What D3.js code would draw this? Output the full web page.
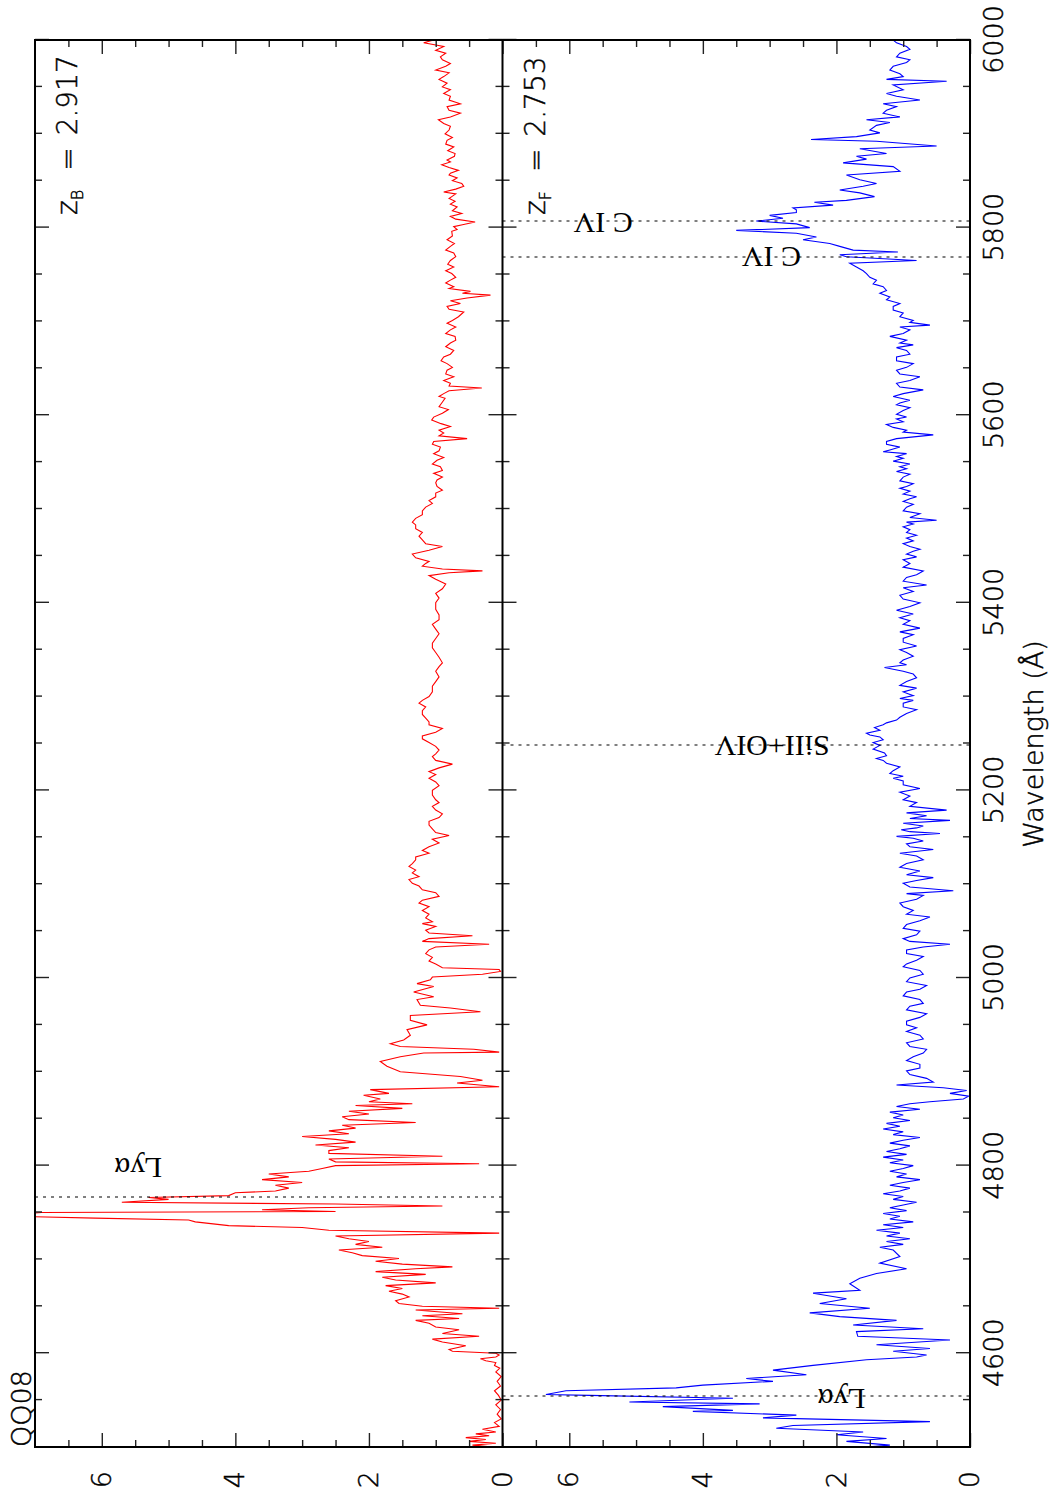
<!DOCTYPE html>
<html>
<head>
<meta charset="utf-8">
<script src="https://cdn.jsdelivr.net/npm/d3@7"></script>
<style>
  body { margin: 0; background: #fff; }
</style>
</head>
<body>
<svg id="chart"></svg>
<script>
// ---- data (wavelength in Angstrom, relative flux) ----
const redSpectrum = [
  [4500,0.15],[4502,0.45],[4504,0.1],[4506,0.5],[4508,0.25],[4510,0.55],[4512,0.2],[4514,0.4],[4516,0.1],[4519,0.3],
  [4522,0.05],[4526,0.12],[4530,0.02],[4535,0.08],[4540,0.03],[4545,0.1],[4550,0.02],[4555,0.06],[4560,0.12],[4565,0.03],
  [4570,0.08],[4575,0.02],[4580,0.1],[4584,0.04],[4587,0.12],[4590,0.1],[4592,0.25],[4594,0.33],[4596,0.1],[4598,0.05],
  [4600,0.1],[4602,0.75],[4604,0.8],[4608,0.55],[4612,0.9],[4615,1.05],[4618,0.35],[4621,0.9],[4625,0.65],[4628,1.0],
  [4632,1.1],[4635,1.3],[4637,0.65],[4640,1.2],[4642,0.6],[4646,1.3],[4648,0.05],[4650,1.2],[4653,1.55],[4656,1.6],
  [4660,1.4],[4663,1.5],[4666,1.7],[4669,1.5],[4672,1.75],[4675,1.0],[4678,1.6],[4681,1.8],[4684,1.15],[4687,1.9],
  [4690,1.3],[4692,0.75],[4695,1.5],[4698,1.9],[4701,1.55],[4704,2.1],[4707,2.25],[4710,2.45],[4713,1.8],[4716,2.2],
  [4719,2.0],[4722,2.3],[4725,2.5],[4728,0.05],[4731,2.6],[4734,3.0],[4736,4.1],[4740,4.6],[4742,4.7],[4744,6.1],
  [4746,7.3],[4748,7.3],[4750,6.9],[4751,2.5],[4753,3.6],[4755,2.9],[4757,0.9],[4759,2.5],[4761,5.7],[4764,5.0],
  [4766,5.3],[4768,4.1],[4771,4.0],[4773,3.4],[4776,3.2],[4779,3.4],[4782,3.0],[4785,3.6],[4788,3.2],[4791,3.5],
  [4794,2.9],[4797,2.7],[4800,2.5],[4802,0.35],[4804,2.5],[4807,2.6],[4810,0.9],[4813,2.6],[4816,2.6],[4819,2.3],
  [4822,2.8],[4825,2.2],[4828,2.5],[4831,3.0],[4834,2.3],[4837,2.6],[4840,2.2],[4843,2.4],[4846,1.3],[4849,2.3],
  [4852,2.4],[4855,2.0],[4858,2.3],[4861,1.5],[4864,2.2],[4866,1.35],[4868,2.0],[4871,1.83],[4875,2.08],[4877,1.7],
  [4881,1.98],[4884,0.05],[4888,0.68],[4891,0.3],[4895,0.63],[4900,1.53],[4906,1.73],[4911,1.83],[4916,1.53],[4920,1.18],
  [4921,0.05],[4924,0.43],[4927,1.53],[4930,1.68],[4934,1.48],[4939,1.38],[4945,1.43],[4950,1.13],[4955,1.38],[4960,1.38],
  [4964,0.33],[4968,0.78],[4971,1.23],[4977,1.28],[4980,1.03],[4985,1.33],[4991,1.03],[4994,1.28],[4998,1.08],[5001,1.05],
  [5004,0.3],[5007,0.03],[5009,0.05],[5011,0.9],[5015,1.0],[5018,1.1],[5022,1.05],[5026,1.15],[5030,1.1],[5033,1.0],
  [5036,0.2],[5039,1.2],[5042,1.1],[5045,0.45],[5048,1.1],[5051,1.15],[5055,1.0],[5058,1.2],[5060,1.05],[5064,1.15],
  [5068,1.1],[5072,1.2],[5076,1.1],[5080,1.25],[5083,1.2],[5087,0.95],[5091,1.0],[5094,1.2],[5098,1.25],[5101,1.35],
  [5105,1.4],[5108,1.25],[5112,1.35],[5115,1.3],[5119,1.4],[5122,1.35],[5126,1.3],[5129,1.3],[5133,1.1],[5136,1.2],
  [5140,1.1],[5144,0.95],[5148,1.05],[5152,0.8],[5155,1.0],[5159,1.05],[5163,1.1],[5167,1.1],[5171,0.95],[5175,0.9],
  [5179,1.0],[5183,1.05],[5187,0.95],[5190,1.0],[5195,1.05],[5200,1.05],[5205,0.95],[5209,1.0],[5213,1.1],[5217,1.0],
  [5220,1.1],[5224,0.95],[5228,0.75],[5232,1.0],[5236,1.05],[5239,1.0],[5243,0.95],[5247,1.0],[5251,1.1],[5255,1.2],
  [5258,1.2],[5262,1.0],[5266,0.9],[5270,1.1],[5273,1.1],[5277,1.15],[5281,1.2],[5285,1.2],[5289,1.15],[5293,1.25],
  [5296,1.2],[5300,1.1],[5305,1.05],[5311,1.05],[5316,1.0],[5321,0.95],[5327,1.0],[5332,0.95],[5336,0.9],[5342,0.95],
  [5347,1.0],[5352,1.05],[5357,1.05],[5362,1.0],[5367,0.95],[5372,1.0],[5377,1.05],[5382,0.95],[5387,0.95],[5393,1.0],
  [5400,1.0],[5405,0.95],[5410,1.0],[5415,0.9],[5420,0.85],[5425,1.0],[5429,1.1],[5432,0.8],[5434,0.3],[5436,0.9],
  [5439,1.2],[5442,1.15],[5444,1.1],[5448,1.3],[5452,1.35],[5456,1.1],[5460,0.9],[5463,1.15],[5467,1.2],[5471,1.25],
  [5475,1.2],[5479,1.3],[5483,1.3],[5486,1.35],[5490,1.3],[5494,1.2],[5498,1.2],[5502,1.15],[5506,1.05],[5509,1.1],
  [5513,1.0],[5517,1.0],[5520,0.9],[5524,0.98],[5528,1.0],[5531,0.98],[5534,0.9],[5538,1.03],[5541,0.9],[5545,0.93],
  [5548,1.05],[5552,0.98],[5555,0.88],[5559,1.03],[5562,0.95],[5566,0.93],[5569,1.05],[5572,1.03],[5575,0.53],[5578,0.95],
  [5581,0.88],[5584,0.95],[5588,0.78],[5591,0.92],[5595,1.06],[5598,1.03],[5602,0.9],[5606,0.81],[5609,0.95],[5613,0.91],
  [5618,0.86],[5620,0.95],[5623,0.88],[5626,0.8],[5629,0.31],[5631,0.8],[5634,0.78],[5637,0.88],[5641,0.73],[5644,0.85],
  [5648,0.83],[5651,0.75],[5655,0.83],[5658,0.92],[5662,0.88],[5665,0.78],[5669,0.73],[5673,0.85],[5677,0.78],[5680,0.7],
  [5684,0.71],[5687,0.85],[5691,0.78],[5694,0.7],[5698,0.83],[5701,0.75],[5705,0.66],[5710,0.58],[5713,0.8],[5716,0.83],
  [5719,0.63],[5722,0.78],[5725,0.53],[5728,0.18],[5730,0.6],[5732,0.48],[5735,0.8],[5737,0.73],[5741,0.85],[5744,0.78],
  [5747,0.7],[5751,0.76],[5754,0.85],[5758,0.73],[5761,0.82],[5765,0.78],[5769,0.7],[5773,0.73],[5776,0.85],[5780,0.78],
  [5783,0.72],[5787,0.83],[5791,0.75],[5796,0.76],[5798,0.68],[5801,0.73],[5803,0.6],[5806,0.41],[5809,0.7],[5812,0.78],
  [5815,0.61],[5818,0.75],[5822,0.68],[5825,0.78],[5828,0.71],[5831,0.8],[5833,0.76],[5836,0.7],[5838,0.88],[5841,0.7],
  [5844,0.58],[5847,0.61],[5850,0.75],[5853,0.68],[5856,0.8],[5858,0.78],[5861,0.66],[5864,0.8],[5867,0.91],[5870,0.78],
  [5872,0.83],[5876,0.72],[5879,0.71],[5882,0.82],[5886,0.73],[5889,0.85],[5893,0.83],[5896,0.75],[5900,0.86],[5904,0.8],
  [5908,0.78],[5911,0.88],[5915,0.96],[5918,0.78],[5922,0.63],[5925,0.8],[5929,0.83],[5932,0.63],[5936,0.8],[5940,0.78],
  [5943,0.88],[5947,0.78],[5950,0.9],[5954,0.83],[5958,0.95],[5961,0.88],[5965,0.8],[5968,1.0],[5972,0.85],[5975,0.78],
  [5979,0.9],[5982,0.93],[5986,0.85],[5989,1.0],[5993,0.88],[5997,1.18],[6000,1.03]
];

const blueSpectrum = [
  [4500,1.55],[4502,1.2],[4506,1.85],[4509,1.25],[4513,2.0],[4516,1.6],[4520,2.9],[4523,2.65],[4527,0.6],[4531,3.1],
  [4534,2.6],[4538,4.15],[4539,3.55],[4543,4.6],[4546,3.15],[4548,5.1],[4552,3.55],[4555,5.7],[4556,6.35],[4560,6.05],
  [4563,4.4],[4566,4.0],[4570,2.95],[4573,3.35],[4577,2.45],[4582,2.95],[4587,2.35],[4593,1.55],[4596,0.8],[4598,0.65],
  [4602,1.15],[4605,0.6],[4609,1.4],[4614,0.3],[4618,1.68],[4623,1.7],[4626,0.7],[4630,1.75],[4635,1.1],[4639,1.95],
  [4643,2.4],[4648,1.5],[4653,2.25],[4658,1.85],[4664,2.35],[4667,1.65],[4674,1.8],[4680,1.65],[4685,1.4],[4690,0.95],
  [4696,1.35],[4703,1.05],[4710,1.15],[4713,1.35],[4716,1.0],[4719,1.25],[4722,0.9],[4725,1.25],[4728,1.05],[4731,1.4],
  [4734,1.0],[4737,1.3],[4740,0.85],[4743,1.2],[4746,1.05],[4749,1.3],[4752,0.95],[4755,1.2],[4758,1.0],[4761,0.8],
  [4764,1.15],[4767,1.0],[4770,1.3],[4773,1.05],[4776,0.9],[4779,1.2],[4782,1.0],[4785,0.75],[4788,1.1],[4791,0.95],
  [4794,1.2],[4797,1.0],[4800,0.85],[4803,1.2],[4806,1.0],[4809,1.3],[4812,0.95],[4815,1.25],[4818,1.05],[4821,0.9],
  [4824,1.2],[4827,1.0],[4830,0.75],[4833,1.15],[4836,1.0],[4839,1.3],[4842,1.05],[4845,1.25],[4848,0.9],[4851,1.15],
  [4854,1.0],[4857,1.2],[4860,0.75],[4863,1.1],[4866,0.9],[4868,0.6],[4871,0.1],[4874,0.02],[4877,0.3],[4880,0.05],
  [4883,0.4],[4886,1.1],[4889,0.55],[4893,0.65],[4897,0.9],[4901,0.95],[4904,0.75],[4908,0.75],[4912,0.95],[4916,0.85],
  [4920,0.7],[4924,0.65],[4927,0.9],[4931,0.95],[4935,0.7],[4939,0.75],[4943,0.95],[4947,0.8],[4950,0.95],[4954,0.95],
  [4958,0.75],[4962,0.65],[4966,0.95],[4970,0.9],[4973,0.7],[4977,0.75],[4981,1.0],[4985,0.95],[4988,0.75],[4992,0.65],
  [4996,0.95],[5000,0.9],[5004,0.7],[5008,0.75],[5012,1.0],[5015,0.95],[5019,0.8],[5023,0.7],[5026,0.95],[5030,0.95],
  [5033,0.7],[5036,0.3],[5039,0.9],[5042,1.0],[5046,0.8],[5050,0.75],[5053,1.0],[5057,0.95],[5061,0.75],[5065,0.6],
  [5068,0.95],[5072,0.85],[5076,1.0],[5080,1.05],[5084,0.8],[5088,0.7],[5090,0.95],[5093,0.25],[5097,0.9],[5101,1.0],
  [5104,0.8],[5107,0.55],[5110,0.95],[5114,0.75],[5118,1.05],[5122,0.95],[5126,0.7],[5130,0.8],[5133,1.05],[5137,0.55],
  [5140,0.9],[5143,0.95],[5146,0.7],[5149,0.85],[5151,1.1],[5154,0.45],[5156,0.9],[5158,1.03],[5160,0.8],[5162,0.7],
  [5165,1.0],[5168,0.3],[5170,0.9],[5173,0.65],[5176,0.95],[5179,0.35],[5183,0.9],[5187,0.8],[5190,1.0],[5194,0.9],
  [5198,1.05],[5202,0.75],[5206,1.0],[5210,1.0],[5213,1.15],[5215,1.0],[5218,1.2],[5221,1.15],[5225,1.05],[5229,1.25],
  [5232,1.3],[5234,1.4],[5237,1.25],[5240,1.28],[5244,1.45],[5248,1.35],[5251,1.45],[5254,1.3],[5257,1.35],[5259,1.5],
  [5261,1.55],[5264,1.35],[5267,1.43],[5270,1.3],[5272,1.25],[5275,1.1],[5278,1.05],[5282,0.95],[5286,0.8],[5289,1.0],
  [5293,1.0],[5296,0.85],[5298,1.05],[5301,0.85],[5305,1.0],[5309,0.8],[5312,1.05],[5316,0.95],[5320,0.8],[5324,0.85],
  [5327,1.0],[5331,1.28],[5334,0.95],[5336,1.05],[5339,1.0],[5343,0.85],[5347,0.95],[5350,1.05],[5354,0.8],[5358,1.0],
  [5362,1.0],[5366,0.85],[5369,1.05],[5373,0.75],[5377,1.0],[5381,0.9],[5384,1.05],[5388,0.85],[5392,1.1],[5396,0.9],
  [5400,0.75],[5404,1.0],[5408,1.05],[5412,0.85],[5416,1.0],[5419,0.65],[5423,1.0],[5427,0.95],[5430,0.8],[5434,0.7],
  [5438,1.0],[5442,0.9],[5446,1.0],[5449,0.8],[5452,0.95],[5455,0.85],[5457,0.75],[5460,0.9],[5463,1.0],[5466,0.85],
  [5469,0.95],[5472,0.8],[5475,0.95],[5478,0.9],[5481,1.0],[5484,0.85],[5486,0.95],[5488,0.5],[5491,0.9],[5495,0.75],
  [5498,1.0],[5502,0.95],[5505,0.85],[5508,1.0],[5511,0.9],[5513,0.8],[5516,1.0],[5519,0.9],[5522,1.05],[5524,0.95],
  [5527,0.85],[5530,1.05],[5534,1.0],[5537,0.9],[5540,1.1],[5543,0.95],[5545,1.05],[5548,0.9],[5551,1.15],[5554,1.0],
  [5556,1.1],[5559,0.95],[5561,1.3],[5563,1.2],[5566,1.05],[5569,1.25],[5572,1.25],[5575,1.1],[5579,0.55],[5582,1.0],
  [5584,0.95],[5587,1.15],[5590,1.25],[5593,1.0],[5596,1.1],[5598,0.95],[5601,1.1],[5605,1.0],[5608,0.9],[5611,1.1],
  [5613,1.05],[5616,0.9],[5620,1.15],[5623,1.0],[5627,0.7],[5630,1.05],[5634,1.1],[5637,0.9],[5641,0.75],[5644,1.05],
  [5648,1.1],[5651,0.95],[5655,0.85],[5658,1.1],[5662,1.1],[5665,0.9],[5669,0.95],[5672,1.1],[5675,0.85],[5677,1.05],
  [5680,0.95],[5684,1.2],[5687,1.0],[5691,0.9],[5694,1.05],[5696,0.6],[5699,0.9],[5701,0.85],[5705,1.05],[5709,1.0],
  [5712,1.15],[5716,1.15],[5719,1.05],[5723,1.25],[5726,1.2],[5730,1.35],[5733,1.25],[5737,1.3],[5740,1.45],[5744,1.4],
  [5747,1.5],[5751,1.55],[5754,1.6],[5758,1.7],[5762,1.8],[5765,0.8],[5769,1.85],[5771,1.95],[5774,1.08],[5776,1.75],
  [5780,1.95],[5783,2.1],[5787,2.5],[5790,2.3],[5794,2.6],[5797,3.5],[5800,2.4],[5804,2.6],[5807,3.2],[5810,2.8],
  [5813,3.0],[5816,2.6],[5819,2.6],[5821,2.65],[5824,2.05],[5827,2.33],[5829,1.85],[5833,1.43],[5837,1.65],[5840,1.95],
  [5844,1.6],[5847,1.4],[5851,1.65],[5856,1.85],[5860,1.05],[5865,1.15],[5869,1.9],[5873,1.55],[5876,1.7],[5879,1.25],
  [5884,1.65],[5887,0.5],[5892,1.4],[5894,2.38],[5897,1.7],[5901,1.35],[5904,1.5],[5909,1.4],[5912,1.2],[5915,1.55],
  [5918,1.05],[5922,1.3],[5925,1.25],[5929,1.1],[5932,1.3],[5936,0.75],[5940,1.1],[5943,1.25],[5947,1.0],[5952,1.15],
  [5956,0.35],[5958,1.25],[5961,1.0],[5964,1.05],[5968,1.2],[5972,1.15],[5976,0.95],[5979,0.9],[5982,1.1],[5986,1.05],
  [5990,0.9],[5993,0.95],[5997,1.1],[6000,1.15]
];

const waveMajorTicks = [4600, 4800, 5000, 5200, 5400, 5600, 5800, 6000];
const waveMinorTicks = [4550, 4650, 4700, 4750, 4850, 4900, 4950, 5050, 5100, 5150, 5250, 5300, 5350,
                        5450, 5500, 5550, 5650, 5700, 5750, 5850, 5900, 5950];
const fluxMajorTicks = [0, 2, 4, 6];
const fluxMinorTicks = [0.5, 1, 1.5, 2.5, 3, 3.5, 4.5, 5, 5.5, 6.5];

// emission line markers: line wavelength, label anchor (wavelength, flux)
const redLines = [
  { name: "Lyα", wave: 4766.5, labelWave: 4808, labelFlux: 5.1 }
];
const blueLines = [
  { name: "Lyα", wave: 4554.4, labelWave: 4562, labelFlux: 1.57 },
  { name: "SiII+OIV", wave: 5248.4, labelWave: 5258, labelFlux: 2.1 },
  { name: "C IV", wave: 5768.7, labelWave: 5779.3, labelFlux: 2.53 },
  { name: "C IV", wave: 5807, labelWave: 5815.6, labelFlux: 5.05 }
];

const objectName = "QQ08";
const redshiftLabels = [{ sub: "B", value: "2.917" }, { sub: "F", value: "2.753" }];
const xTitle = "Wavelength (Å)";

// ---- layout: chart is drawn in landscape, then turned 90 degrees ----
const W = 1407, H = 935, PH = H / 2;
const sansFont = "'DejaVu Sans', sans-serif";
const serifFont = "'Liberation Serif', 'DejaVu Serif', serif";

const svg = d3.select("#chart")
    .attr("width", 1059)
    .attr("height", 1493);

const g = svg.append("g")
    .attr("transform", "translate(35,1447) rotate(-90)");

const x = d3.scaleLinear().domain([4500, 6000]).range([0, W]);

const panels = [
  { data: redSpectrum, color: "#ff0000", top: 0, lines: redLines, z: redshiftLabels[0] },
  { data: blueSpectrum, color: "#0000ff", top: PH, lines: blueLines, z: redshiftLabels[1] }
];

// thin plotter-like lettering
function thinText(sel, size) {
  sel.attr("font-family", sansFont)
    .attr("font-size", size)
    .attr("font-weight", 200)
    .attr("fill", "#000")
    .attr("stroke", "#000")
    .attr("stroke-width", 0.45);
}

function styleAxis(sel) {
  sel.select(".domain").remove();
  sel.selectAll(".tick line").attr("stroke", "#222").attr("stroke-width", 1.4);
  sel.selectAll(".tick text").call(thinText, 27);
}

panels.forEach((p, i) => {
  p.y = d3.scaleLinear().domain([0, 7]).range([p.top + PH, p.top]);

  const clipId = "clip" + i;
  g.append("clipPath").attr("id", clipId)
    .append("rect").attr("x", 0).attr("y", p.top).attr("width", W).attr("height", PH);

  // spectrum
  g.append("path")
      .datum(p.data)
      .attr("clip-path", `url(#${clipId})`)
      .attr("fill", "none")
      .attr("stroke", p.color)
      .attr("stroke-width", 1.1)
      .attr("d", d3.line().x(d => x(d[0])).y(d => p.y(d[1])));

  // wavelength ticks along the top and bottom edges of the panel
  [[waveMajorTicks, 14], [waveMinorTicks, 7]].forEach(([vals, len]) => {
    g.append("g")
        .attr("transform", `translate(0,${p.top})`)
        .call(d3.axisTop(x).tickValues(vals).tickSize(-len).tickFormat(""))
        .call(styleAxis);
    const bottomAxis = d3.axisBottom(x).tickValues(vals).tickSize(-len).tickPadding(14)
        .tickFormat(i === 1 && len === 14 ? d3.format("d") : "");
    g.append("g")
        .attr("transform", `translate(0,${p.top + PH})`)
        .call(bottomAxis)
        .call(styleAxis);
  });

  // flux ticks on the left and right edges
  [[fluxMajorTicks, 14], [fluxMinorTicks, 7]].forEach(([vals, len]) => {
    g.append("g")
        .call(d3.axisLeft(p.y).tickValues(vals).tickSize(-len).tickPadding(24)
          .tickFormat(len === 14 ? d3.format("d") : ""))
        .call(styleAxis);
    g.append("g")
        .attr("transform", `translate(${W},0)`)
        .call(d3.axisRight(p.y).tickValues(vals).tickSize(-len).tickFormat(""))
        .call(styleAxis);
  });

  // dotted line markers and their labels
  p.lines.forEach(l => {
    g.append("line")
        .attr("x1", x(l.wave)).attr("x2", x(l.wave))
        .attr("y1", p.top).attr("y2", p.top + PH)
        .attr("stroke", "#000")
        .attr("stroke-width", 1.1)
        .attr("stroke-dasharray", "3 5");
    g.append("text")
        .attr("transform", `translate(${x(l.labelWave)},${p.y(l.labelFlux)}) rotate(-90)`)
        .attr("font-family", serifFont)
        .attr("font-size", 30)
        .attr("fill", "#000")
        .text(l.name);
  });

  // redshift label
  const zt = g.append("text")
      .attr("x", 1232).attr("y", p.top + 42)
      .call(thinText, 28);
  zt.append("tspan").text("z");
  zt.append("tspan").attr("dy", 6).attr("font-size", 16).text(p.z.sub);
  zt.append("tspan").attr("dy", -6).attr("dx", 19).text("=");
  zt.append("tspan").attr("dx", 12).text(p.z.value);
});

// frame and panel divider
g.append("rect")
    .attr("x", 0).attr("y", 0).attr("width", W).attr("height", H)
    .attr("fill", "none").attr("stroke", "#000").attr("stroke-width", 2);
g.append("line")
    .attr("x1", 0).attr("x2", W).attr("y1", PH).attr("y2", PH)
    .attr("stroke", "#000").attr("stroke-width", 2);

// titles
g.append("text")
    .attr("x", 0).attr("y", -4)
    .call(thinText, 27)
    .text(objectName);

g.append("text")
    .attr("x", 703).attr("y", 1008)
    .attr("text-anchor", "middle")
    .call(thinText, 27)
    .text(xTitle);
</script>
</body>
</html>
